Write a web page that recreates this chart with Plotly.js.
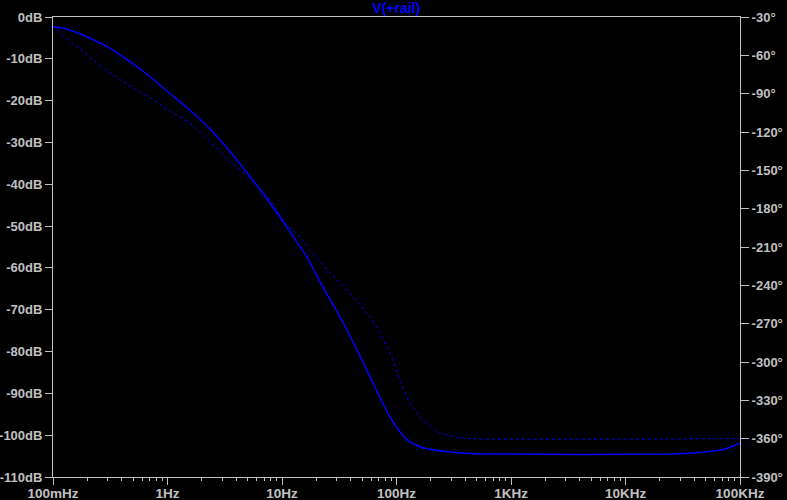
<!DOCTYPE html>
<html>
<head>
<meta charset="utf-8">
<script src="https://cdn.plot.ly/plotly-3.0.1.min.js"></script>
<style>
html,body{margin:0;padding:0;background:#000;}
#chart{width:787px;height:500px;}
</style>
</head>
<body>
<div id="chart"></div>
<script>
// Magnitude (solid, left axis, dB)
const magFreq = [0.1, 0.102, 0.1408, 0.2104, 0.3147, 0.470, 0.703, 1.051, 1.572, 2.35, 3.515, 5.26, 7.86, 10.27, 13.44, 16.5, 22.8, 32.1, 45.2, 62.3, 87.7, 107, 131, 170, 293, 617, 24490, 49400, 73900, 100000];
const magDb   = [-2.3, -2.32, -3.11, -5.09, -7.48, -10.69, -14.28, -18.3, -22.3, -26.8, -32.21, -38.19, -44.55, -48.95, -53.73, -57.4, -64.6, -71.7, -79.6, -87.5, -95.65, -99.2, -101.6, -103.0, -104.0, -104.5, -104.5, -104.0, -103.3, -101.9];

// Phase (dotted, right axis, degrees)
const phFreq = [0.1, 0.1041, 0.1230, 0.1504, 0.1839, 0.2249, 0.2750, 0.3362, 0.4111, 0.5751, 0.703, 0.860, 1.051, 1.572, 2.35, 3.515, 5.26, 7.86, 10.99, 13.88, 17.6, 26.25, 39.3, 58.7, 71.8, 87.7, 107, 131, 170, 240, 337.5, 421, 100000];
const phDeg  = [-37.5, -38.84, -44.63, -51.12, -57.16, -63.65, -70.15, -75.39, -80.63, -88.93, -93.16, -98.32, -103.8, -113.2, -127.6, -143.2, -156.2, -173.2, -192.8, -200.6, -212.3, -230.3, -246.0, -264.8, -277.3, -293.0, -314.1, -332.1, -345.4, -355.6, -358.7, -360.0, -360.0];

// Tick labels
const xTickVals = [0.1, 1, 10, 100, 1000, 10000, 100000];
const xTickText = ["100mHz", "1Hz", "10Hz", "100Hz", "1KHz", "10KHz", "100KHz"];
const yTickVals = [0, -10, -20, -30, -40, -50, -60, -70, -80, -90, -100, -110];
const yTickText = ["0dB", "-10dB", "-20dB", "-30dB", "-40dB", "-50dB", "-60dB", "-70dB", "-80dB", "-90dB", "-100dB", "-110dB"];
const y2TickVals = [-30, -60, -90, -120, -150, -180, -210, -240, -270, -300, -330, -360, -390];
const y2TickText = ["-30°", "-60°", "-90°", "-120°", "-150°", "-180°", "-210°", "-240°", "-270°", "-300°", "-330°", "-360°", "-390°"];
const titleText = "V(+rail)";

const gray = "#c0c0c0";
const fam = "Liberation Sans, Arial, sans-serif";
const xTickFont = {family: fam, size: 13.5, color: gray, weight: 700};
const yTickFont = {family: fam, size: 13, color: gray, weight: 700};

const traces = [
  {x: magFreq, y: magDb, type: "scatter", mode: "lines", yaxis: "y",
   line: {color: "#0000ff", width: 1.5, shape: "spline", smoothing: 0.5}, hoverinfo: "skip", showlegend: false},
  {x: phFreq, y: phDeg, type: "scatter", mode: "lines", yaxis: "y2",
   line: {color: "#0000ff", width: 1, dash: "3px,3px", shape: "spline", smoothing: 0.5}, hoverinfo: "skip", showlegend: false}
];

const layout = {
  width: 787, height: 500,
  paper_bgcolor: "#000000", plot_bgcolor: "#000000",
  margin: {l: 53, r: 47, t: 17, b: 23, pad: 0},
  showlegend: false,
  title: {text: titleText, x: 0.5035, xanchor: "center", y: 1 - 8/500, yanchor: "middle", yref: "container",
          font: {family: fam, size: 14, color: "#0000ff", weight: 700}},
  xaxis: {type: "log", range: [-1, 5], showgrid: false, zeroline: false,
          showline: true, linecolor: gray, linewidth: 1, mirror: true,
          tickmode: "array", tickvals: xTickVals, ticktext: xTickText,
          ticks: "outside", ticklen: 7, tickcolor: gray, tickwidth: 1,
          ticklabelstandoff: -3,
          minor: {ticks: "outside", ticklen: 3, tickcolor: gray, tickwidth: 1, dtick: "D1", showgrid: false},
          tickfont: xTickFont, fixedrange: true},
  yaxis: {range: [-110, 0], showgrid: false, zeroline: false,
          showline: true, linecolor: gray, linewidth: 1,
          tickmode: "array", tickvals: yTickVals, ticktext: yTickText,
          ticks: "outside", ticklen: 7, tickcolor: gray, tickwidth: 1,
          tickfont: yTickFont, fixedrange: true},
  yaxis2: {range: [-390, -30], overlaying: "y", side: "right", showgrid: false, zeroline: false,
           showline: true, linecolor: gray, linewidth: 1,
           tickmode: "array", tickvals: y2TickVals, ticktext: y2TickText,
           ticks: "outside", ticklen: 8, tickcolor: gray, tickwidth: 1,
           tickfont: yTickFont, fixedrange: true}
};

Plotly.newPlot("chart", traces, layout, {displayModeBar: false, staticPlot: true});
</script>
</body>
</html>
